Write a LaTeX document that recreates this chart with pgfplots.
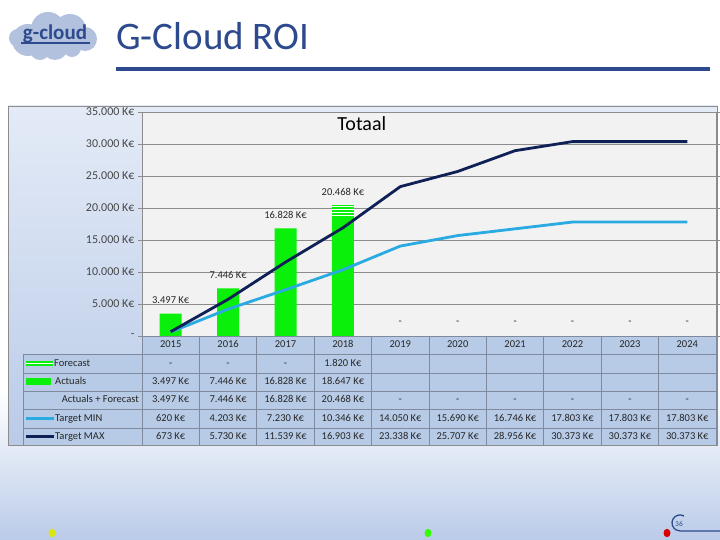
\documentclass[border=0pt]{standalone}
\usepackage{pgfplots}
\pgfplotsset{compat=1.18}
\usepackage{fontspec}
\setmainfont{Carlito}
\usetikzlibrary{patterns}

\definecolor{titleblue}{RGB}{46,74,143}
\definecolor{slideblue}{RGB}{186,203,233}
\definecolor{paneltop}{RGB}{228,235,247}
\definecolor{panelbot}{RGB}{186,203,232}
\definecolor{cellblue}{RGB}{183,203,231}
\definecolor{tabline}{RGB}{128,138,158}
\definecolor{gridgray}{RGB}{140,140,140}
\definecolor{plotbg}{RGB}{242,242,242}
\definecolor{barG}{RGB}{10,240,10}
\definecolor{minblue}{RGB}{41,171,226}
\definecolor{maxnavy}{RGB}{15,32,86}
\definecolor{txt}{RGB}{38,38,38}
\definecolor{logobg}{RGB}{178,193,222}

\newcommand\fsz[1]{\fontsize{#1}{#1}\selectfont}

\begin{document}
\begin{tikzpicture}[x=1pt,y=1pt]
\useasboundingbox (0,0) rectangle (720,540);
% slide background
\fill[white] (0,0) rectangle (720,540);
\shade[top color=white, bottom color=slideblue] (0,0) rectangle (720,150);

% logo
\fill[logobg] (28,500) circle (16) (48,511) circle (17) (70,510) circle (16)
  (85,501) circle (12) (55,493) circle (13) (18,502) circle (9) (40,490) circle (10)
  (72,492) circle (9);
\node[text=titleblue, font=\fsz{21}\bfseries] at (55,506) {g-cloud};
\draw[titleblue, line width=1.5pt] (21,497) -- (90,497);

% title
\node[anchor=base west, inner sep=0, text=titleblue, font=\fsz{39}] at (116,490) {G-Cloud ROI};
\draw[titleblue, line width=3.5pt] (116,471) -- (710,471);

% chart panel
\shade[top color=paneltop, bottom color=panelbot] (8,95) rectangle (717,434);
\fill[cellblue] (142,186) rectangle (716,204);
\fill[cellblue] (23,95) rectangle (716,186);

\begin{axis}[
    at={(142pt,204pt)}, anchor=south west,
    scale only axis, width=574pt, height=224pt,
    xmin=-0.5, xmax=9.5, ymin=0, ymax=35000,
    xtick=\empty,
    ytick={0,5000,...,35000},
    yticklabels={-, 5.000 K€, 10.000 K€, 15.000 K€, 20.000 K€, 25.000 K€, 30.000 K€, 35.000 K€},
    scaled y ticks=false,
    yticklabel style={font=\fsz{12}, text=txt!85},
    tick align=outside, major tick length=4pt,
    ytick style={draw=gridgray},
    axis line style={draw=gridgray},
    ymajorgrids, major grid style={draw=gridgray, line width=0.8pt},
    axis background/.style={fill=plotbg},
    title=Totaal,
    title style={at={(0.383,0.92)}, anchor=center, font=\fsz{20}, text=black},
    clip=false,
]
% forecast on top of actuals (2018)
\addplot[ybar, bar width=22pt, bar shift=0pt, draw=none, fill=barG,
  postaction={pattern=horizontal lines, pattern color=white}]
  coordinates {(3,20468)};
% actuals
\addplot[ybar, bar width=22pt, bar shift=0pt, draw=none, fill=barG]
  coordinates {(0,3497) (1,7446) (2,16828) (3,18647)};
% target min
\addplot[minblue, line width=2.8pt, mark=none, line join=round]
  coordinates {(0,620) (1,4203) (2,7230) (3,10346) (4,14050) (5,15690) (6,16746) (7,17803) (8,17803) (9,17803)};
% target max
\addplot[maxnavy, line width=2.8pt, mark=none, line join=round]
  coordinates {(0,673) (1,5730) (2,11539) (3,16903) (4,23338) (5,25707) (6,28956) (7,30373) (8,30373) (9,30373)};
% actuals + forecast labels
\addplot[draw=none, mark=none,
  nodes near coords, point meta=explicit symbolic,
  every node near coord/.append style={font=\fsz{10.5}, text=txt, anchor=center, yshift=13.5pt}]
  coordinates {(0,3497) [3.497 K€] (1,7446) [7.446 K€] (2,16828) [16.828 K€] (3,20468) [20.468 K€]
    (4,0) [-] (5,0) [-] (6,0) [-] (7,0) [-] (8,0) [-] (9,0) [-]};
\end{axis}

% table grid
\draw[tabline, line width=0.7pt] (142,204) -- (716,204);
\foreach \yy in {186,167,149,131,112,95} \draw[tabline, line width=0.7pt] (23,\yy) -- (716,\yy);
\foreach \k in {0,...,10} \draw[tabline, line width=0.7pt] ({142+57.4*\k},95) -- ({142+57.4*\k},204);
\draw[tabline, line width=0.7pt] (23,95) -- (23,186);

% header years
\foreach \yr [count=\i from 0] in {2015,...,2024}
  \node[font=\fsz{10.5}, text=txt, text height=7pt, text depth=1pt] at ({142+57.4*(\i+0.5)},195) {\yr};

% row keys and labels
\draw[barG, line width=4.5pt] (26,176.5) -- (53,176.5);
\draw[white, line width=1.2pt] (26,176.5) -- (53,176.5);
\fill[barG] (26,155) rectangle (51,161.5);
\draw[minblue, line width=2.8pt] (26,121.5) -- (54,121.5);
\draw[maxnavy, line width=2.8pt] (26,103.5) -- (54,103.5);
\begin{scope}[every node/.style={font=\fsz{10.5}, text=txt, inner sep=0, text height=7pt, text depth=1pt}]
\node[anchor=west] at (54,176.5) {Forecast};
\node[anchor=west] at (55,158) {Actuals};
\node[anchor=east] at (139,140) {Actuals + Forecast};
\node[anchor=west] at (55,121.5) {Target MIN};
\node[anchor=west] at (55,103.5) {Target MAX};
\end{scope}

% row values
\begin{scope}[every node/.style={font=\fsz{10.5}, text=txt, text height=7pt, text depth=1pt}]
\foreach \v [count=\i from 0] in {-, -, -, 1.820 K€}
  \node at ({142+57.4*(\i+0.5)},176.5) {\v};
\foreach \v [count=\i from 0] in {3.497 K€, 7.446 K€, 16.828 K€, 18.647 K€}
  \node at ({142+57.4*(\i+0.5)},158) {\v};
\foreach \v [count=\i from 0] in {3.497 K€, 7.446 K€, 16.828 K€, 20.468 K€, -, -, -, -, -, -}
  \node at ({142+57.4*(\i+0.5)},140) {\v};
\foreach \v [count=\i from 0] in {620 K€, 4.203 K€, 7.230 K€, 10.346 K€, 14.050 K€, 15.690 K€, 16.746 K€, 17.803 K€, 17.803 K€, 17.803 K€}
  \node at ({142+57.4*(\i+0.5)},121.5) {\v};
\foreach \v [count=\i from 0] in {673 K€, 5.730 K€, 11.539 K€, 16.903 K€, 23.338 K€, 25.707 K€, 28.956 K€, 30.373 K€, 30.373 K€, 30.373 K€}
  \node at ({142+57.4*(\i+0.5)},103.5) {\v};
\end{scope}

% panel frame
\draw[gridgray, line width=0.8pt] (8,95) rectangle (717,434);

% footer decorations
\fill[yellow!85!green] (52,7) ellipse (3.5 and 4.2);
\fill[green!80!yellow] (428,7) ellipse (3.5 and 4.2);
\fill[red!85!black] (667,7) ellipse (3.5 and 4.2);
\draw[titleblue, line width=1.3pt] (684,24) arc (60:270:8) -- (720,9);
\node[font=\fsz{7.5}, text=titleblue] at (679,16.5) {36};
\end{tikzpicture}
\end{document}
